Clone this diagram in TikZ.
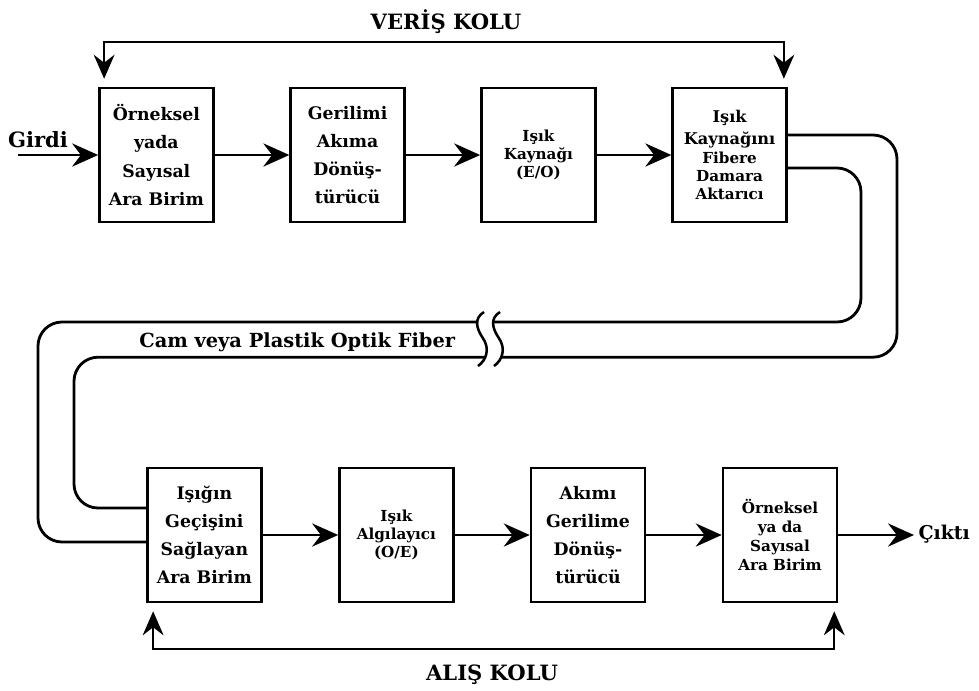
\documentclass[tikz,border=0pt]{standalone}
\usepackage{fontspec}
\setmainfont{DejaVu Serif}
\usetikzlibrary{arrows.meta,calc}
\newcommand{\buyukyazi}{\fontsize{12.3}{20}\selectfont\bfseries}
\newcommand{\kucukyazi}{\fontsize{10.8}{13}\selectfont\bfseries}
\tikzset{
  kutu/.style={rectangle, draw, line width=1.8pt, minimum width=2.85cm,
    minimum height=3.35cm, align=center, font=\buyukyazi, inner sep=1pt},
  kucuk/.style={font=\kucukyazi},
  etiket/.style={font=\fontsize{15}{17}\selectfont\bfseries},
  ok/.style={-{Stealth[length=6.5mm,width=5.8mm,inset=2.2mm]}, line width=1.8pt},
  kol/.style={{Stealth[length=6mm,width=5.2mm,inset=2mm]}-{Stealth[length=6mm,width=5.2mm,inset=2mm]},
    line width=1.6pt},
  lif/.style={line width=2pt, rounded corners=0.6cm},
  kirik/.style={line width=1.8pt},
}

\begin{document}
\begin{tikzpicture}
  \useasboundingbox (0,0) rectangle (24.475,-17.25);
  % verici kol
  \node[kutu] (orn) at (3.91,-3.875) {Örneksel\\yada\\Sayısal\\Ara Birim};
  \node[kutu] (ger) at (8.69,-3.875) {Gerilimi\\Akıma\\Dönüş-\\türücü};
  \node[kutu,kucuk] (kay) at (13.46,-3.875) {Işık\\Kaynağı\\(E/O)};
  \node[kutu,kucuk] (akt) at (18.24,-3.875)
    {{\fontsize{11.5}{14}\selectfont Işık}\\[3pt]{\fontsize{11.5}{14}\selectfont Kaynağını}\\Fibere\\Damara\\Aktarıcı};
  % alici kol
  \node[kutu] (gec) at (5.11,-13.375) {Işığın\\Geçişini\\Sağlayan\\Ara Birim};
  \node[kutu,kucuk] (alg) at (9.91,-13.375) {Işık\\Algılayıcı\\(O/E)};
  \node[kutu] (aki) at (14.7,-13.375) {Akımı\\Gerilime\\Dönüş-\\türücü};
  \node[kutu,font=\fontsize{10.8}{13.5}\selectfont\bfseries] (cik) at (19.5,-13.375)
    {Örneksel\\ya da\\Sayısal\\Ara Birim};

  \node[etiket] (veris) at (11.15,-0.55) {VERİŞ KOLU};
  \node[etiket] (alis) at (12.3,-16.875) {ALIŞ KOLU};
  \node[etiket] (girdi) at (0.95,-3.5) {Girdi};
  \node[etiket,anchor=west,inner sep=3pt,font=\fontsize{13.5}{15}\selectfont\bfseries] (cikti)
    at (22.85,-13.35) {Çıktı};
  \node[etiket,font=\fontsize{13.8}{15}\selectfont\bfseries] (fiber) at (7.43,-8.55)
    {Cam veya Plastik Optik Fiber};

  \coordinate (giris) at (0.45,-3.875);
  \draw[ok] (giris) -- (orn);
  \draw[ok] (orn) -- (ger);
  \draw[ok] (ger) -- (kay);
  \draw[ok] (kay) -- (akt);
  \draw[ok] (gec) -- (alg);
  \draw[ok] (alg) -- (aki);
  \draw[ok] (aki) -- (cik);
  \draw[ok] (cik) -- (cik -| cikti.west);

  % geri besleme kollari
  \coordinate (vk) at (11.15,-1.05);
  \coordinate (ak) at (12.275,-16.225);
  \draw[kol] ([xshift=0.15cm,yshift=0.2cm]orn.north west) |- (vk)
    -| ([xshift=-0.1cm,yshift=0.2cm]akt.north east);
  \draw[kol] ([xshift=0.175cm,yshift=-0.2cm]gec.south west) |- (ak)
    -| ([xshift=-0.1cm,yshift=-0.2cm]cik.south east);

  % optik fiber
  \coordinate (sag1) at (12.35,-8.05);
  \coordinate (sag2) at (12.5,-8.93);
  \coordinate (sol1) at (11.95,-8.05);
  \coordinate (sol2) at (12.1,-8.93);
  \draw[lif] ([yshift=0.5cm]akt.east) -| (22.425,-8.93) -- (sag2);
  \draw[lif] ([yshift=-0.325cm]akt.east) -| (21.525,-8.05) -- (sag1);
  \draw[lif] (sol1) -| (0.95,-13.55) -- ([yshift=-0.175cm]gec.west);
  \draw[lif] (sol2) -| (1.85,-12.7) -- ([yshift=0.675cm]gec.west);
  \foreach \x in {12.05,12.45}
    \draw[kirik] (\x+0.05,-7.8) .. controls (\x-0.2,-7.95) and (\x-0.15,-8.2) .. (\x+0.02,-8.45)
      .. controls (\x+0.2,-8.7) and (\x+0.12,-9.0) .. (\x-0.1,-9.15);
\end{tikzpicture}
\end{document}
